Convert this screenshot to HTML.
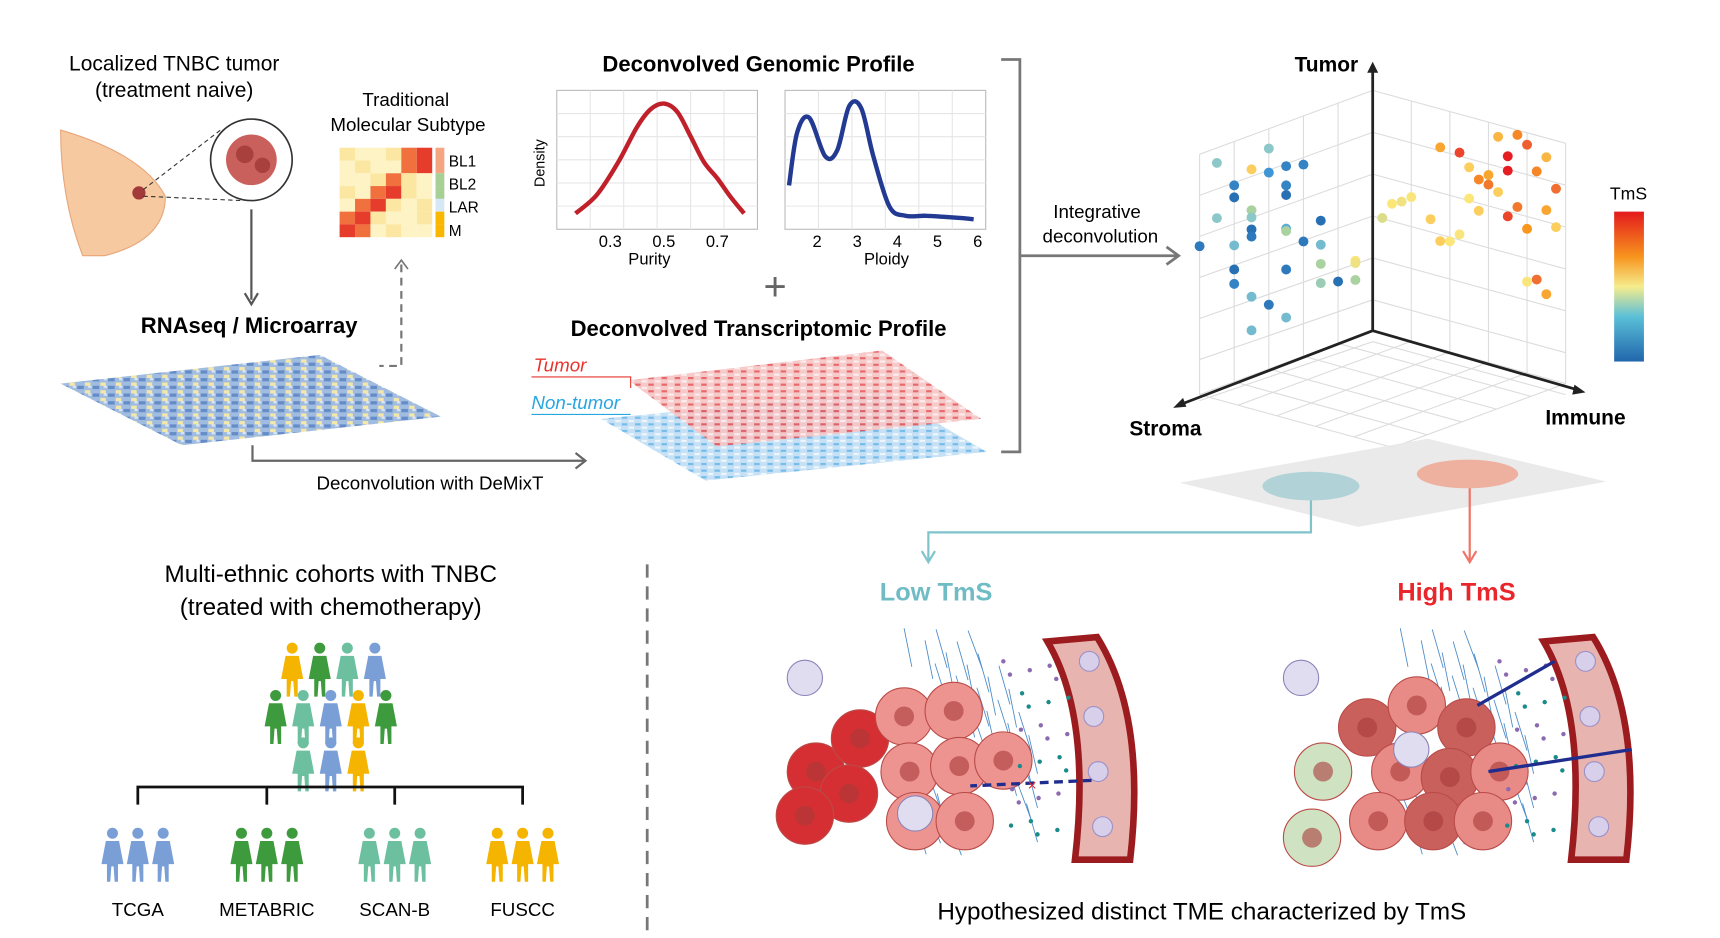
<!DOCTYPE html>
<html><head><meta charset="utf-8"><style>
html,body{margin:0;padding:0;background:#fff;width:1720px;height:938px;overflow:hidden}
svg{display:block}
text{font-family:"Liberation Sans",sans-serif}
</style></head><body>
<svg id="fig" width="1720" height="938" viewBox="0 0 1560 851" preserveAspectRatio="none" xmlns="http://www.w3.org/2000/svg">
<defs>
<pattern id="blueHm" width="14" height="7" patternUnits="userSpaceOnUse"><rect width="14" height="7" fill="#8fb0dc"/><rect x="0" y="0" width="6" height="3" fill="#4a78bd"/><rect x="7" y="4" width="5" height="3" fill="#f2e39a"/><rect x="10" y="0" width="3" height="2" fill="#d3dff0"/></pattern>
<pattern id="redHm" width="12" height="6" patternUnits="userSpaceOnUse"><rect width="12" height="6" fill="#f6c4c4"/><rect x="0" y="0" width="5" height="2" fill="#e5585c"/><rect x="6" y="3" width="5" height="2" fill="#fdeaea"/></pattern>
<pattern id="cyanHm" width="12" height="6" patternUnits="userSpaceOnUse"><rect width="12" height="6" fill="#bcdcf3"/><rect x="0" y="0" width="5" height="2" fill="#5cb0e6"/><rect x="6" y="3" width="5" height="2" fill="#eaf5fc"/></pattern>
<linearGradient id="tmsGrad" x1="0" y1="0" x2="0" y2="1"><stop offset="0" stop-color="#e31a1c"/><stop offset="0.3" stop-color="#f7941d"/><stop offset="0.5" stop-color="#f6ec8c"/><stop offset="0.7" stop-color="#5bc0d8"/><stop offset="1" stop-color="#2166ac"/></linearGradient>
<g id="person"><circle cx="0" cy="-24" r="5"/><path d="M-6,-17 L6,-17 L10,4 L5,4 L5,20 L2,20 L1,6 L-1,6 L-2,20 L-5,20 L-5,4 L-10,4 Z"/></g>
</defs>

<g>
<path d="M55,118 Q130,140 150,178 Q150,218 95,232 L75,232 Q55,180 55,118Z" fill="#f7c9a0" stroke="#e7a67a"/>
<circle cx="126" cy="175" r="6" fill="#a33a3a"/>
<circle cx="228" cy="145" r="37" fill="#fff" stroke="#333" stroke-width="1.5"/>
<circle cx="228" cy="145" r="23" fill="#c9605c"/><circle cx="222" cy="140" r="8" fill="#a8403e"/><circle cx="238" cy="150" r="7" fill="#a8403e"/>
<line x1="130" y1="172" x2="200" y2="118" stroke="#333" stroke-dasharray="4,3"/>
<line x1="130" y1="178" x2="220" y2="182" stroke="#333" stroke-dasharray="4,3"/>
</g>
<text x="158" y="64" font-size="19" text-anchor="middle">Localized TNBC tumor</text>
<text x="158" y="88" font-size="19" text-anchor="middle">(treatment naive)</text>
<line x1="228" y1="190" x2="228" y2="272" stroke="#555" stroke-width="2"/><path d="M222,266 L228,276 L234,266" fill="none" stroke="#555" stroke-width="2"/>

<text x="368" y="96" font-size="17" text-anchor="middle">Traditional</text>
<text x="370" y="119" font-size="17" text-anchor="middle">Molecular Subtype</text>
<g id="subtypeHm"></g>
<text x="407" y="151" font-size="14">BL1</text>
<text x="407" y="172" font-size="14">BL2</text>
<text x="407" y="193" font-size="14">LAR</text>
<text x="407" y="214" font-size="14">M</text>
<path d="M364,240 L364,332 L344,332" fill="none" stroke="#777" stroke-width="2" stroke-dasharray="7,5"/><path d="M358,244 L364,236 L370,244" fill="none" stroke="#777" stroke-width="1.5"/>

<text x="226" y="302" font-size="20" font-weight="bold" text-anchor="middle">RNAseq / Microarray</text>
<polygon points="55,348 290,322 400,378 165,404" fill="url(#blueHm)" opacity="0.85"/>
<path d="M229,404 L229,418 L530,418" fill="none" stroke="#666" stroke-width="2"/><path d="M522,411 L531,418 L522,425" fill="none" stroke="#666" stroke-width="2"/>
<text x="390" y="444" font-size="17" text-anchor="middle">Deconvolution with DeMixT</text>

<text x="688" y="65" font-size="20" font-weight="bold" text-anchor="middle">Deconvolved Genomic Profile</text>
<g id="purityPlot"></g>
<g id="ploidyPlot"></g>
<text x="494" y="148" font-size="13" transform="rotate(-90 494 148)" text-anchor="middle">Density</text>
<text x="589" y="240" font-size="15" text-anchor="middle">Purity</text>
<text x="804" y="240" font-size="15" text-anchor="middle">Ploidy</text>
<text x="703" y="272" font-size="36" text-anchor="middle" fill="#666">+</text>

<text x="688" y="305" font-size="20" font-weight="bold" text-anchor="middle">Deconvolved Transcriptomic Profile</text>
<polygon points="545,380 800,355 895,410 640,436" fill="url(#cyanHm)" opacity="0.85"/>
<polygon points="570,345 800,318 890,380 650,405" fill="url(#redHm)" opacity="0.9"/>
<text x="484" y="337" font-size="17" font-style="italic" fill="#e8342c">Tumor</text>
<path d="M482,342 L572,342 L572,352" fill="none" stroke="#e8342c"/>
<text x="482" y="371" font-size="17" font-style="italic" fill="#27a6e0">Non-tumor</text>
<line x1="482" y1="376" x2="572" y2="376" stroke="#27a6e0"/>

<path d="M908,54 L925,54 L925,410 L908,410" fill="none" stroke="#777" stroke-width="2.5"/>
<line x1="925" y1="232" x2="1068" y2="232" stroke="#777" stroke-width="2.5"/><path d="M1058,224 L1069,232 L1058,240" fill="none" stroke="#777" stroke-width="2.5"/>
<text x="995" y="198" font-size="17" text-anchor="middle">Integrative</text>
<text x="998" y="220" font-size="17" text-anchor="middle">deconvolution</text>

<g id="scatter3d"></g>
<text x="1203" y="65" font-size="19" font-weight="bold" text-anchor="middle">Tumor</text>
<text x="1057" y="395" font-size="19" font-weight="bold" text-anchor="middle">Stroma</text>
<text x="1438" y="385" font-size="19" font-weight="bold" text-anchor="middle">Immune</text>
<text x="1477" y="181" font-size="16" text-anchor="middle">TmS</text>
<rect x="1464" y="192" width="27" height="136" fill="url(#tmsGrad)"/>

<polygon points="1070,438 1295,398 1457,437 1232,478" fill="#e8e8e8" opacity="0.9"/>
<ellipse cx="1189" cy="441" rx="44" ry="13" fill="#b1d3d8"/>
<ellipse cx="1331" cy="430" rx="46" ry="13" fill="#eeb19f"/>
<path d="M1189,454 L1189,483 L842,483 L842,508" fill="none" stroke="#7fc3cb" stroke-width="2"/><path d="M836,500 L842,510 L848,500" fill="none" stroke="#7fc3cb" stroke-width="2"/>
<path d="M1333,443 L1333,508" fill="none" stroke="#f07467" stroke-width="2"/><path d="M1327,500 L1333,510 L1339,500" fill="none" stroke="#f07467" stroke-width="2"/>

<text x="849" y="545" font-size="23" font-weight="bold" fill="#6fbcc4" text-anchor="middle">Low TmS</text>
<text x="1321" y="545" font-size="23" font-weight="bold" fill="#e8262b" text-anchor="middle">High TmS</text>

<g id="lowTme"></g>
<g id="highTme"></g>
<text x="1090" y="834" font-size="22" text-anchor="middle">Hypothesized distinct TME characterized by TmS</text>

<line x1="587" y1="512" x2="587" y2="851" stroke="#777" stroke-width="2.5" stroke-dasharray="12,8"/>

<text x="300" y="528" font-size="22" text-anchor="middle">Multi-ethnic cohorts with TNBC</text>
<text x="300" y="558" font-size="22" text-anchor="middle">(treated with chemotherapy)</text>
<g id="crowd"></g>
<path d="M125,730 L125,714 L474,714 L474,730 M242,714 L242,730 M358,714 L358,730" fill="none" stroke="#111" stroke-width="2.5"/>
<g id="cohorts"></g>
</svg>
<script>
const NS='http://www.w3.org/2000/svg';
function mk(tag,attrs,parent){const e=document.createElementNS(NS,tag);for(const k in attrs)e.setAttribute(k,attrs[k]);parent.appendChild(e);return e;}
const byId=id=>document.getElementById(id);

const subtypeMatrix=[
[2,1,1,2,4,5],[1,2,1,1,4,5],[1,1,2,4,2,1],[2,1,4,5,2,1],[1,4,5,2,1,2],[4,5,2,1,1,2],[5,4,1,2,1,1]];
const subtypeColors=['#fff','#fdf3c4','#fbe7a2','#f8d88a','#f0703e','#e63c2c'];
const subtypeBar=['#f4a582','#f4a582','#a6d096','#a6d096','#d6e8f5','#f9b700','#f9b700'];
(function(){const g=byId('subtypeHm');const x0=308,y0=134,cw=14,ch=11.6;
subtypeMatrix.forEach((row,i)=>row.forEach((v,j)=>{const r=mk('rect',{x:x0+j*cw,y:y0+i*ch,width:cw,height:ch,fill:subtypeColors[v]},g);

}));
subtypeBar.forEach((c,i)=>{const r=mk('rect',{x:395,y:y0+i*ch,width:8,height:ch,fill:c},g);

});})();

const purityX=[0.17,0.25,0.33,0.40,0.45,0.50,0.55,0.60,0.65,0.70,0.75,0.80];
const purityY=[0.06,0.22,0.50,0.80,0.95,1.00,0.93,0.72,0.50,0.36,0.20,0.06];
const purityTicks=[0.3,0.5,0.7];
const ploidyX=[1.3,1.5,1.8,2.2,2.5,2.8,3.1,3.4,3.8,4.2,4.7,5.2,5.6,5.9];
const ploidyY=[0.30,0.75,0.88,0.55,0.60,0.98,0.96,0.55,0.12,0.04,0.04,0.03,0.02,0.01];
const ploidyTicks=[2,3,4,5,6];
function smoothPath(pts){let d='M'+pts[0][0]+','+pts[0][1];
 for(let i=0;i<pts.length-1;i++){const p0=pts[i-1]||pts[i],p1=pts[i],p2=pts[i+1],p3=pts[i+2]||p2;
  const c1=[p1[0]+(p2[0]-p0[0])/6,p1[1]+(p2[1]-p0[1])/6],c2=[p2[0]-(p3[0]-p1[0])/6,p2[1]-(p3[1]-p1[1])/6];
  d+=' C'+c1+' '+c2+' '+p2;}return d;}
function density(g,xs,ys,ticks,dom,box,color){
 const sx=v=>box.x+(v-dom[0])/(dom[1]-dom[0])*box.w, sy=v=>box.y+box.h-8-v*(box.h-20);
 mk('rect',{x:box.x,y:box.y,width:box.w,height:box.h,fill:'#fff',stroke:'#bbb'},g);
 for(let i=1;i<6;i++){mk('line',{x1:box.x+i*box.w/6,y1:box.y,x2:box.x+i*box.w/6,y2:box.y+box.h,stroke:'#e6e6e6'},g);
  mk('line',{x1:box.x,y1:box.y+i*box.h/6,x2:box.x+box.w,y2:box.y+i*box.h/6,stroke:'#e6e6e6'},g);}
 const pts=xs.map((v,i)=>[sx(v),sy(ys[i])]);
 const p=mk('path',{d:smoothPath(pts),fill:'none',stroke:color,'stroke-width':4,'stroke-linejoin':'round'},g);
 
 
 ticks.forEach(t=>{const tx=mk('text',{x:sx(t),y:box.y+box.h+16,'font-size':15,'text-anchor':'middle'},g);tx.textContent=t;
  
  });
}
density(byId('purityPlot'),purityX,purityY,purityTicks,[0.1,0.85],{x:505,y:82,w:182,h:126},'#c0202a');
density(byId('ploidyPlot'),ploidyX,ploidyY,ploidyTicks,[1.2,6.2],{x:712,y:82,w:182,h:126},'#233a93');

const sc=byId('scatter3d');
(function(){
 const g=sc;const gc='#dcdcdc';
 for(let i=0;i<=6;i++){const y=i*38;mk('line',{x1:1088,y1:140+y*0.98,x2:1245,y2:82+y,stroke:gc},g);}
 for(let i=0;i<=5;i++){const x=1088+i*31.4;const dy=(1245-x)*0.37;mk('line',{x1:x,y1:82+dy,x2:x,y2:300+dy,stroke:gc},g);}
 for(let i=0;i<=6;i++){const y=i*38;mk('line',{x1:1245,y1:82+y,x2:1420,y2:130+y,stroke:gc},g);}
 for(let i=0;i<=5;i++){const x=1245+i*35;const dy=(x-1245)*0.275;mk('line',{x1:x,y1:82+dy,x2:x,y2:300+dy,stroke:gc},g);}
 for(let i=0;i<=5;i++){const t=i/5;mk('line',{x1:1245-157*t,y1:300+58*t,x2:1420-157*t,y2:348+58*t,stroke:gc},g);
  mk('line',{x1:1245+175*t,y1:300+48*t,x2:1088+175*t,y2:358+48*t,stroke:gc},g);}
 mk('line',{x1:1245,y1:300,x2:1245,y2:62,stroke:'#222','stroke-width':2.5},g);
 mk('path',{d:'M1240,66 L1245,56 L1250,66Z',fill:'#222'},g);
 mk('line',{x1:1245,y1:300,x2:1068,y2:368,stroke:'#222','stroke-width':2.5},g);
 mk('path',{d:'M1064,370 L1073,361 L1076,369Z',fill:'#222'},g);
 mk('line',{x1:1245,y1:300,x2:1432,y2:354,stroke:'#222','stroke-width':2.5},g);
 mk('path',{d:'M1438,356 L1428,349 L1426,358Z',fill:'#222'},g);
})();
const ptStroma=[0.9,0.6,0.7,0.8,0.5,0.6,0.4,0.8,0.9,0.5,0.7,0.5,0.7,1.0,0.7,0.7,0.8,0.5,0.5,0.3,0.8,0.4,0.3,0.8,0.5,0.7,0.3,0.1,0.6,0.1,0.3,0.2,0.7,0.5,0.1];
const ptTumor=[0.80,0.78,0.72,0.68,0.68,0.68,0.66,0.63,0.57,0.60,0.55,0.56,0.52,0.48,0.47,0.44,0.43,0.42,0.41,0.40,0.33,0.34,0.30,0.27,0.25,0.19,0.22,0.18,0.13,0.17,0.14,0.12,0.05,0.05,0.10];
const ptTms=[0.45,0.45,0.75,0.15,0.15,0.25,0.15,0.05,0.45,0.15,0.55,0.05,0.45,0.10,0.05,0.10,0.40,0.35,0.55,0.05,0.05,0.10,0.40,0.15,0.10,0.40,0.55,0.70,0.10,0.65,0.50,0.05,0.40,0.40,0.55];
const ptImmune=[0.75,0.65,0.80,0.90,0.70,0.85,0.45,0.35,0.70,0.95,0.50,0.60,0.55,0.60,0.65,0.90,0.75,0.50,0.95,0.70,0.55,0.80,0.20,0.15,0.10,0.30,0.45,0.05,0.40,0.35,0.85,0.80,0.90];
const ptTumor2=[0.98,0.95,0.95,0.92,0.88,0.85,0.84,0.84,0.82,0.80,0.79,0.78,0.75,0.74,0.72,0.70,0.68,0.66,0.64,0.63,0.62,0.60,0.60,0.57,0.55,0.53,0.50,0.48,0.46,0.45,0.40,0.38,0.35];
const ptTms2=[0.85,0.78,0.92,0.78,1.0,0.85,0.95,0.80,1.0,0.90,0.75,0.80,0.85,0.88,0.75,0.80,0.88,0.72,0.75,0.95,0.75,0.82,0.70,0.65,0.72,0.75,0.70,0.62,0.72,0.75,0.90,0.70,0.80];
function tmsColor(v){const stops=[[0,[33,102,172]],[0.3,[70,160,220]],[0.45,[140,200,200]],[0.55,[170,210,160]],[0.65,[240,225,130]],[0.72,[252,230,120]],[0.82,[248,150,30]],[0.9,[240,110,50]],[1,[230,30,35]]];
 for(let i=1;i<stops.length;i++){if(v<=stops[i][0]){const a=stops[i-1],b=stops[i],t=(v-a[0])/(b[0]-a[0]);return 'rgb('+a[1].map((c,k)=>Math.round(c+(b[1][k]-c)*t)).join(',')+')';}}return 'rgb(230,30,35)';}
ptStroma.forEach((s,i)=>{const x=1245-157*s,y=300+58*s-218*ptTumor[i]-30;
 const c=mk('circle',{cx:x,cy:y,r:4.5,fill:tmsColor(ptTms[i])},sc);
 
 });
ptImmune.forEach((m,i)=>{const x=1245+175*m,y=300+48*m-218*ptTumor2[i];
 const c=mk('circle',{cx:x,cy:y,r:4.5,fill:tmsColor(ptTms2[i])},sc);
 
 });

function tme(g,ox,high){
 mk('path',{d:`M${ox+280},${582} Q${ox+320},650 ${ox+305},780 L${ox+355},780 Q${ox+370},650 ${ox+325},578Z`,fill:'#e8b4b0',stroke:'#9b1b1e','stroke-width':6},g);
 for(let i=0;i<4;i++)mk('circle',{cx:ox+318+i*4,cy:600+i*50,r:9,fill:'#d8d0ea',stroke:'#9b90c8'},g);
 for(let i=0;i<40;i++){const x=ox+150+(i*37%120),y=570+(i*53%180);mk('line',{x1:x,y1:y,x2:x+(i%7)-3+10,y2:y+35,stroke:'#4c8cc8','stroke-width':0.8},g);}
 const cells=high?[[120,660,'#c9605c'],[165,640,'#e88a86'],[210,660,'#c9605c'],[150,700,'#e88a86'],[195,705,'#c9605c'],[240,700,'#e88a86'],[130,745,'#e88a86'],[180,745,'#c9605c'],[225,745,'#e88a86'],[80,700,'#cfe3c2'],[70,760,'#cfe3c2']]
 :[[70,700,'#d62f33'],[110,670,'#d62f33'],[100,720,'#d62f33'],[60,740,'#d62f33'],[150,650,'#ee9490'],[195,645,'#ee9490'],[155,700,'#ee9490'],[200,695,'#ee9490'],[160,745,'#ee9490'],[205,745,'#ee9490'],[240,690,'#ee9490']];
 cells.forEach(c=>{mk('circle',{cx:ox+c[0],cy:c[1],r:26,fill:c[2],stroke:'#b94b48','stroke-width':1},g);mk('circle',{cx:ox+c[0],cy:c[1],r:9,fill:'#a83a3a',opacity:0.6},g);});
 mk('circle',{cx:ox+160,cy:high?680:738,r:16,fill:'#e0ddf0',stroke:'#8b84b8'},g);
 mk('circle',{cx:ox+60,cy:615,r:16,fill:'#e0ddf0',stroke:'#8b84b8'},g);
 for(let i=0;i<25;i++)mk('circle',{cx:ox+240+(i*17%60),cy:600+(i*29%170),r:2,fill:i%2?'#1a8a8a':'#8b6ab0'},g);
 if(high){mk('line',{x1:ox+360,y1:680,x2:ox+230,y2:700,stroke:'#1f2d8f','stroke-width':3},g);mk('line',{x1:ox+290,y1:600,x2:ox+220,y2:640,stroke:'#1f2d8f','stroke-width':3},g);}
 else{mk('line',{x1:ox+320,y1:708,x2:ox+210,y2:713,stroke:'#1f2d8f','stroke-width':3,'stroke-dasharray':'8,5'},g);mk('text',{x:ox+262,y:717,'font-size':14,fill:'#e8262b'},g).textContent='×';}
}
tme(byId('lowTme'),670,false);
tme(byId('highTme'),1120,true);

const crowdColors=['#f5b400','#3d9b3d','#6cc0a0','#7a9fd6'];
const crowdRows=[[265,290,315,340],[250,275,300,325,350],[275,300,325]];
const crowdY=[612,655,698];
crowdRows.forEach((row,r)=>row.forEach((x,i)=>{const u=mk('use',{href:'#person',x:x,y:crowdY[r],fill:crowdColors[(i+r)%4]},byId('crowd'));
 
 }));
const cohortNames=['TCGA','METABRIC','SCAN-B','FUSCC'];
const cohortColors=['#7a9fd6','#3d9b3d','#6cc0a0','#f5b400'];
const cohortX=[125,242,358,474];
cohortNames.forEach((n,i)=>{const g=mk('g',{},byId('cohorts'));
 
 
 [-23,0,23].forEach(dx=>mk('use',{href:'#person',x:cohortX[i]+dx,y:780,fill:cohortColors[i]},g));
 const t=mk('text',{x:cohortX[i],y:831,'font-size':17,'text-anchor':'middle'},g);t.textContent=n;});
</script>
</body></html>
